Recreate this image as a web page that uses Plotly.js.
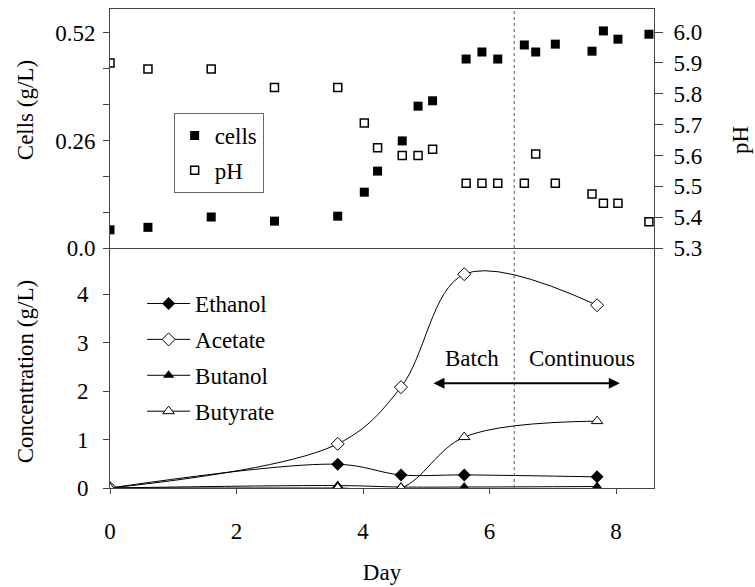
<!DOCTYPE html>
<html>
<head>
<meta charset="utf-8">
<script src="https://cdn.plot.ly/plotly-3.0.1.min.js"></script>
<style>html,body{margin:0;padding:0;background:#fff;}#chart{width:755px;height:587px;}</style>
</head>
<body>
<div id="chart"></div>
<script>
// ---- Upper panel: cells and pH ----
const cellDays = [0, 0.6, 1.6, 2.6, 3.6, 4.02, 4.23, 4.62, 4.87, 5.1, 5.63, 5.88, 6.13, 6.55, 6.73, 7.04, 7.62, 7.8, 8.03, 8.52];
const cells    = [0.044, 0.05, 0.075, 0.065, 0.077, 0.135, 0.186, 0.259, 0.343, 0.356, 0.457, 0.474, 0.457, 0.491, 0.474, 0.493, 0.476, 0.525, 0.505, 0.517];
const pH       = [5.90, 5.88, 5.88, 5.82, 5.82, 5.705, 5.625, 5.60, 5.60, 5.62, 5.51, 5.51, 5.51, 5.51, 5.605, 5.51, 5.475, 5.445, 5.445, 5.385];

// ---- Lower panel: products ----
const prodDays = [0, 3.6, 4.6, 5.6, 7.7];
const ethanol  = [0, 0.49, 0.27, 0.27, 0.23];
const acetate  = [0, 0.91, 2.08, 4.41, 3.77];
const butanol  = [0, 0.05, 0.02, 0.02, 0.03];
const butyrate = [0, 0.0, 0.0, 1.05, 1.38];

// ---- Ticks ----
const dayTicks   = [0, 2, 4, 6, 8];
const concTicks  = [0, 1, 2, 3, 4];
const cellTicks  = [0, 0.0867, 0.1733, 0.26, 0.3467, 0.4333, 0.52];
const cellLabels = ['0.0', '', '', '0.26', '', '', '0.52'];
const pHTicks    = [5.3, 5.4, 5.5, 5.6, 5.7, 5.8, 5.9, 6.0];
const pHLabels   = ['5.3', '5.4', '5.5', '5.6', '5.7', '5.8', '5.9', '6.0'];
const switchDay  = 6.39;

const FONT = 'Liberation Serif';
const FS = 23;
const AX = '#444';

const traces = [
  {x: prodDays, y: ethanol, name: 'Ethanol', type: 'scatter', mode: 'lines+markers', xaxis: 'x', yaxis: 'y', legend: 'legend', legendgroup: 'e',
   line: {color: '#000', width: 1, shape: 'spline'}, marker: {symbol: 'diamond', size: 10, color: '#000'}},
  {x: prodDays, y: acetate, name: 'Acetate', type: 'scatter', mode: 'lines+markers', xaxis: 'x', yaxis: 'y', legend: 'legend', legendgroup: 'a',
   line: {color: '#000', width: 1, shape: 'spline'}, marker: {symbol: 'diamond', size: 10, color: '#fff', line: {color: '#000', width: 1}}},
  {x: prodDays, y: butanol, name: 'Butanol', type: 'scatter', mode: 'lines+markers', xaxis: 'x', yaxis: 'y', legend: 'legend', legendgroup: 'b',
   line: {color: '#000', width: 1, shape: 'spline'}, marker: {symbol: 'triangle-up', size: 10, color: '#000'}},
  {x: prodDays, y: butyrate, name: 'Butyrate', type: 'scatter', mode: 'lines+markers', xaxis: 'x', yaxis: 'y', legend: 'legend', legendgroup: 'r',
   line: {color: '#000', width: 1, shape: 'spline'}, marker: {symbol: 'triangle-up', size: 10, color: '#fff', line: {color: '#000', width: 1}}},
  {x: cellDays, y: cells, name: 'cells', type: 'scatter', mode: 'markers', xaxis: 'x2', yaxis: 'y2', legend: 'legend2', legendgroup: 'c',
   marker: {symbol: 'square', size: 9, color: '#000'}},
  {x: cellDays, y: pH, name: 'pH', type: 'scatter', mode: 'markers', xaxis: 'x2', yaxis: 'y3', legend: 'legend2', legendgroup: 'p',
   marker: {symbol: 'square', size: 8, color: '#fff', line: {color: '#000', width: 1.5}}}
];

const split = 0.501;
const layout = {
  width: 755, height: 587,
  margin: {l: 110, r: 101, t: 9, b: 99},
  paper_bgcolor: '#fff', plot_bgcolor: '#fff',
  font: {family: FONT, size: FS, color: '#000'},
  showlegend: true,
  xaxis: {domain: [0, 1], anchor: 'y', range: [0, 8.6], tickvals: dayTicks, ticks: 'outside', ticklen: 5, tickcolor: AX,
          showline: true, linecolor: AX, linewidth: 1, showgrid: false, zeroline: false, ticklabelstandoff: 17,
          tickfont: {family: FONT, size: FS},
          title: {text: 'Day', standoff: 21, font: {family: FONT, size: FS}}},
  xaxis2: {domain: [0, 1], anchor: 'y2', matches: 'x', range: [0, 8.6], showticklabels: false, ticks: '',
           showline: true, mirror: true, linecolor: AX, linewidth: 1, showgrid: false, zeroline: false},
  yaxis: {domain: [0, split], anchor: 'x', range: [0, 4.95], tickvals: concTicks, ticks: 'outside', ticklen: 6, tickcolor: AX,
          tickfont: {family: FONT, size: FS},
          showline: true, mirror: true, linecolor: AX, linewidth: 1, showgrid: false, zeroline: false, ticklabelstandoff: 10},
  yaxis2: {domain: [split, 1], anchor: 'x2', range: [0, 0.578], tickvals: cellTicks, ticktext: cellLabels, ticks: 'outside', ticklen: 6, tickcolor: AX,
           tickfont: {family: FONT, size: FS},
           showline: true, linecolor: AX, linewidth: 1, showgrid: false, zeroline: false, ticklabelstandoff: 3},
  yaxis3: {overlaying: 'y2', side: 'right', anchor: 'x2', range: [5.3, 6.0746], tickvals: pHTicks, ticktext: pHLabels, ticks: 'outside', ticklen: 8, tickcolor: AX,
           tickfont: {family: FONT, size: FS},
           showline: true, linecolor: AX, linewidth: 1, showgrid: false, zeroline: false, ticklabelstandoff: 6},
  yaxis4: {overlaying: 'y2', side: 'right', anchor: 'x2', range: [5.3, 6.0746], tickvals: pHTicks, ticks: 'inside', ticklen: 8, tickcolor: AX,
           showticklabels: false, showline: false, showgrid: false, zeroline: false},
  legend: {x: 0.059, y: 0.43, xanchor: 'left', yanchor: 'top', bgcolor: 'rgba(0,0,0,0)', borderwidth: 0,
           font: {family: FONT, size: FS}, itemwidth: 43, traceorder: 'grouped', tracegroupgap: 3},
  legend2: {x: 0.117, y: 0.783, xanchor: 'left', yanchor: 'top', bgcolor: '#fff', bordercolor: '#666', borderwidth: 1,
            font: {family: FONT, size: FS}, traceorder: 'grouped', tracegroupgap: 2},
  shapes: [
    {type: 'line', xref: 'x', yref: 'paper', x0: switchDay, x1: switchDay, y0: 0, y1: 1,
     line: {color: '#555', width: 1, dash: 'dot'}}
  ],
  annotations: [
    {xref: 'paper', yref: 'paper', x: -0.156, y: 0.789, xanchor: 'center', yanchor: 'middle', text: 'Cells (g/L)', textangle: -90, showarrow: false, font: {family: FONT, size: FS}},
    {xref: 'paper', yref: 'paper', x: -0.156, y: 0.242, xanchor: 'center', yanchor: 'middle', text: 'Concentration (g/L)', textangle: -90, showarrow: false, font: {family: FONT, size: FS}},
    {xref: 'paper', yref: 'paper', x: 1.158, y: 0.7265, xanchor: 'center', yanchor: 'middle', text: 'pH', textangle: -90, showarrow: false, font: {family: FONT, size: FS}},
    {xref: 'x', yref: 'y', x: 5.72, y: 2.68, text: 'Batch', showarrow: false, font: {family: FONT, size: FS}},
    {xref: 'x', yref: 'y', x: 7.46, y: 2.68, text: 'Continuous', showarrow: false, font: {family: FONT, size: FS}},
    {xref: 'x', yref: 'y', x: 8.06, y: 2.16, axref: 'x', ayref: 'y', ax: 5.09, ay: 2.16, text: '',
     showarrow: true, arrowside: 'end+start', arrowhead: 2, arrowsize: 1.1, arrowwidth: 2, arrowcolor: '#000'}
  ]
};

Plotly.newPlot('chart', traces, layout, {displayModeBar: false, staticPlot: true});
</script>
</body>
</html>
